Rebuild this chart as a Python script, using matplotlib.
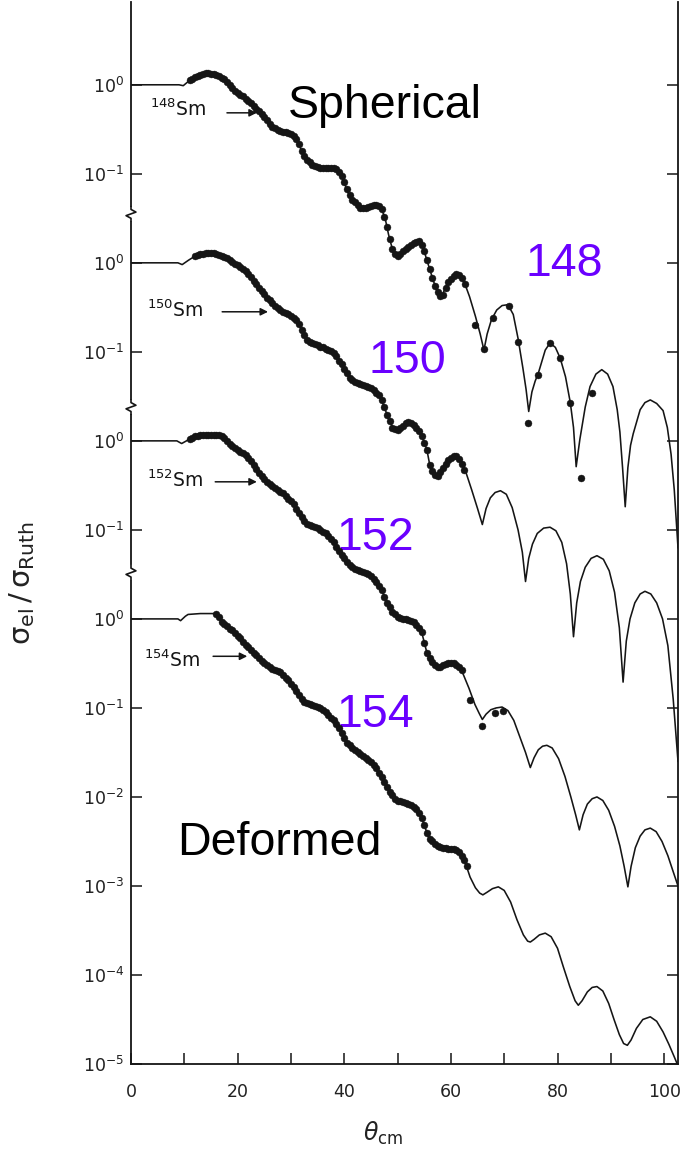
import numpy as np
import matplotlib
matplotlib.use("Agg")
import matplotlib.pyplot as plt
from matplotlib.ticker import FixedLocator, NullLocator

plt.rcParams['mathtext.default'] = 'regular'
plt.rcParams['font.family'] = ['DejaVu Sans']

# ---------------------------------------------------------------------------
# Elastic scattering on Sm isotopes: sigma_el / sigma_Ruth vs theta_cm (deg).
# Each entry is (theta_cm, log10(sigma_el / sigma_Ruth)), before stacking.
# ---------------------------------------------------------------------------

# --- 148Sm : optical-model curve ---
theory_148 = [
    (0, 0), (9.0, 0), (9.8, -0.01), (10.6, 0.03), (11.8, 0.08), (13.0, 0.11),
    (14.3, 0.13), (15.6, 0.12), (17.0, 0.08), (18.2, 0.02), (19.1, -0.05),
    (20.5, -0.11), (21.8, -0.17), (23.6, -0.28), (25.5, -0.39), (27.4, -0.50),
    (28.6, -0.53), (29.8, -0.54), (31.1, -0.62), (32.3, -0.78), (33.6, -0.88),
    (34.9, -0.92), (36.5, -0.93), (38.0, -0.93), (39.0, -0.98), (39.8, -1.06),
    (40.6, -1.20), (41.7, -1.30), (43.0, -1.38), (44.3, -1.38), (45.4, -1.35),
    (46.7, -1.37), (47.6, -1.48), (48.3, -1.68), (49.0, -1.84), (49.9, -1.92),
    (51.2, -1.86), (52.5, -1.80), (54.2, -1.76), (54.9, -1.85), (55.5, -1.97),
    (56.7, -2.20), (57.5, -2.33), (58.3, -2.38), (59.0, -2.27), (59.8, -2.19),
    (60.5, -2.15), (61.2, -2.13), (62.4, -2.20), (63.5, -2.38), (64.6, -2.60),
    (65.5, -2.80), (66.2, -2.98), (66.8, -2.80), (67.6, -2.64), (68.6, -2.53),
    (69.6, -2.48), (70.7, -2.47), (71.7, -2.58), (72.6, -2.85), (73.5, -3.18),
    (74.1, -3.42), (74.6, -3.67), (75.2, -3.45), (75.8, -3.33), (76.4, -3.24),
    (77.7, -2.98), (78.6, -2.90), (79.6, -2.95), (80.5, -3.07), (81.5, -3.28),
    (82.4, -3.57), (83.0, -3.85), (83.5, -4.29), (84.2, -3.98), (85.2, -3.62),
    (86.1, -3.39), (87.2, -3.25), (88.3, -3.20), (89.4, -3.25), (90.4, -3.39),
    (91.2, -3.65), (91.7, -3.90), (92.2, -4.30), (92.7, -4.74), (93.2, -4.30),
    (93.7, -4.05), (94.2, -3.92), (95.5, -3.65), (96.4, -3.57), (97.4, -3.54),
    (98.6, -3.58), (99.8, -3.66), (100.6, -3.85), (101.3, -4.15), (101.9, -4.55),
    (102.6, -5.20),
]

# --- 148Sm : measured points ---
measured_148 = [
    (11, 0.05), (11.5, 0.07), (12, 0.09), (12.5, 0.10), (13, 0.11), (13.5, 0.12),
    (14, 0.13), (14.5, 0.13), (15, 0.12), (15.5, 0.12), (16, 0.11), (16.5, 0.10),
    (17, 0.08), (17.5, 0.06), (18, 0.03), (18.5, 0.00), (19, -0.04), (19.5, -0.07),
    (20, -0.09), (20.5, -0.11), (21, -0.13), (21.5, -0.16), (22, -0.18), (22.5, -0.21),
    (23, -0.24), (23.5, -0.27), (24, -0.30), (24.5, -0.33), (25, -0.36), (25.5, -0.40),
    (26, -0.44), (26.5, -0.47), (27, -0.49), (27.5, -0.51), (28, -0.52), (28.5, -0.53),
    (29, -0.53), (29.5, -0.54), (30, -0.55), (30.5, -0.57), (31, -0.61), (31.5, -0.67),
    (32, -0.74), (32.5, -0.80), (33, -0.84), (33.5, -0.87), (34, -0.90), (34.5, -0.91),
    (35, -0.92), (35.5, -0.93), (36, -0.93), (36.5, -0.93), (37, -0.93), (37.5, -0.93),
    (38, -0.93), (38.5, -0.95), (39, -0.98), (39.5, -1.03), (40, -1.09), (40.5, -1.17),
    (41, -1.24), (41.5, -1.29), (42, -1.32), (42.5, -1.35), (43, -1.38), (43.5, -1.38),
    (44, -1.38), (44.5, -1.37), (45, -1.36), (45.5, -1.35), (46, -1.35), (46.5, -1.36),
    (47, -1.40), (47.5, -1.48), (48, -1.60), (48.5, -1.73), (49, -1.84), (49.5, -1.90),
    (50, -1.92), (50.5, -1.90), (51, -1.87), (51.5, -1.84), (52, -1.82), (52.5, -1.80),
    (53, -1.78), (53.5, -1.77), (54, -1.76), (54.5, -1.80), (55, -1.87), (55.5, -1.97),
    (56, -2.07), (56.5, -2.17), (57, -2.26), (57.5, -2.33), (58, -2.37), (58.5, -2.36),
    (59, -2.28), (59.5, -2.22), (60, -2.18), (60.5, -2.15), (61, -2.13), (61.5, -2.14),
    (62, -2.17), (62.6, -2.24), (64.5, -2.70), (66.2, -2.97), (67.9, -2.62),
    (70.9, -2.48), (72.6, -2.89), (74.5, -3.80), (76.4, -3.26), (78.6, -2.90),
    (80.5, -3.07), (82.4, -3.57), (84.4, -4.42), (86.5, -3.46),
]

# --- 150Sm ---
theory_150 = [
    (0, 0), (8.8, 0), (9.6, -0.02), (10.8, 0.03), (12.4, 0.09), (14.8, 0.11),
    (17.0, 0.08), (19.1, 0.01), (20.5, -0.05), (21.8, -0.11), (23.3, -0.22),
    (24.8, -0.34), (26.4, -0.45), (28.0, -0.53), (29.6, -0.58), (31.1, -0.64),
    (32.1, -0.76), (33.0, -0.87), (34.9, -0.92), (36.4, -0.96), (37.9, -1.00),
    (39.0, -1.10), (39.8, -1.17), (40.8, -1.27), (41.7, -1.33), (43.0, -1.36),
    (44.3, -1.39), (45.5, -1.43), (46.7, -1.50), (47.5, -1.62), (48.3, -1.75),
    (49.2, -1.86), (49.9, -1.88), (50.8, -1.84), (51.8, -1.79), (53.0, -1.82),
    (54.2, -1.90), (54.9, -2.00), (55.5, -2.10), (56.1, -2.29), (57.4, -2.40),
    (58.4, -2.30), (59.5, -2.21), (60.8, -2.17), (61.8, -2.21), (62.8, -2.35),
    (63.9, -2.55), (65.0, -2.76), (65.9, -2.94), (66.6, -2.76), (67.4, -2.64),
    (68.3, -2.58), (69.3, -2.56), (70.4, -2.60), (71.5, -2.75), (72.6, -3.00),
    (73.4, -3.25), (74.0, -3.58), (74.6, -3.32), (75.3, -3.16), (76.2, -3.04),
    (77.4, -2.98), (78.6, -2.97), (79.7, -3.01), (80.8, -3.14), (81.7, -3.38),
    (82.4, -3.72), (83.0, -4.20), (83.6, -3.82), (84.3, -3.58), (85.2, -3.42),
    (86.3, -3.32), (87.4, -3.29), (88.6, -3.33), (89.7, -3.46), (90.7, -3.70),
    (91.6, -4.10), (92.3, -4.71), (92.9, -4.25), (93.6, -4.00), (94.5, -3.82),
    (95.5, -3.72), (96.4, -3.69), (97.5, -3.72), (98.6, -3.82), (99.7, -4.00),
    (100.7, -4.30), (101.7, -4.90), (102.6, -5.60),
]

measured_150 = [
    (12, 0.08), (12.5, 0.09), (13, 0.10), (13.5, 0.10), (14, 0.11), (14.5, 0.11),
    (15, 0.11), (15.5, 0.11), (16, 0.10), (16.5, 0.09), (17, 0.08), (17.5, 0.07),
    (18, 0.05), (18.5, 0.03), (19, 0.01), (19.5, -0.01), (20, -0.03), (20.5, -0.05),
    (21, -0.07), (21.5, -0.09), (22, -0.12), (22.5, -0.16), (23, -0.20), (23.5, -0.24),
    (24, -0.28), (24.5, -0.32), (25, -0.35), (25.5, -0.39), (26, -0.42), (26.5, -0.45),
    (27, -0.48), (27.5, -0.51), (28, -0.53), (28.5, -0.55), (29, -0.56), (29.5, -0.58),
    (30, -0.60), (30.5, -0.62), (31, -0.64), (31.5, -0.69), (32, -0.75), (32.5, -0.81),
    (33, -0.87), (33.5, -0.89), (34, -0.90), (34.5, -0.91), (35, -0.92), (35.5, -0.94),
    (36, -0.95), (36.5, -0.97), (37, -0.98), (37.5, -0.99), (38, -1.01), (38.5, -1.05),
    (39, -1.10), (39.5, -1.14), (40, -1.19), (40.5, -1.24), (41, -1.29), (41.5, -1.32),
    (42, -1.34), (42.5, -1.35), (43, -1.36), (43.5, -1.37), (44, -1.38), (44.5, -1.39),
    (45, -1.41), (45.5, -1.43), (46, -1.46), (46.5, -1.49), (47, -1.54), (47.5, -1.62),
    (48, -1.71), (48.5, -1.78), (49, -1.85), (49.5, -1.87), (50, -1.88), (50.5, -1.86),
    (51, -1.83), (51.5, -1.80), (52, -1.79), (52.5, -1.80), (53, -1.82), (53.5, -1.85),
    (54, -1.89), (54.5, -1.95), (55, -2.02), (55.5, -2.10), (56, -2.27), (56.5, -2.34),
    (57, -2.38), (57.5, -2.40), (58, -2.35), (58.5, -2.30), (59, -2.26), (59.5, -2.22),
    (60, -2.19), (60.5, -2.17), (61, -2.17), (61.5, -2.20), (62, -2.26), (62.5, -2.33),
]

# --- 152Sm ---
theory_152 = [
    (0, 0), (8.6, 0), (9.5, -0.03), (10.7, 0.01), (12.0, 0.05), (13.5, 0.07),
    (15.5, 0.07), (17.0, 0.06), (18.6, -0.04), (20.2, -0.11), (21.8, -0.18),
    (23.3, -0.30), (24.8, -0.42), (26.4, -0.51), (28.0, -0.57), (29.2, -0.63),
    (30.4, -0.70), (31.3, -0.79), (32.3, -0.89), (33.6, -0.95), (34.9, -0.98),
    (36.1, -1.03), (37.3, -1.08), (38.3, -1.16), (39.2, -1.26), (40.5, -1.36),
    (41.7, -1.43), (43.0, -1.46), (44.3, -1.48), (45.5, -1.55), (46.7, -1.64),
    (47.4, -1.73), (48.0, -1.82), (49.0, -1.92), (49.9, -1.98), (51.1, -2.00),
    (52.3, -2.01), (53.4, -2.06), (54.4, -2.12), (55.5, -2.38), (56.5, -2.48),
    (57.6, -2.55), (58.8, -2.51), (60.2, -2.49), (61.2, -2.52), (62.3, -2.62),
    (63.4, -2.78), (64.5, -2.96), (65.3, -3.06), (65.9, -3.13), (66.6, -3.07),
    (67.5, -3.02), (68.5, -3.00), (69.6, -2.99), (70.7, -3.03), (71.8, -3.14),
    (72.9, -3.32), (74.0, -3.50), (74.9, -3.67), (75.6, -3.56), (76.4, -3.47),
    (77.2, -3.43), (78.0, -3.42), (79.0, -3.45), (80.2, -3.57), (81.4, -3.77),
    (82.5, -4.00), (83.4, -4.20), (84.1, -4.37), (84.8, -4.20), (85.6, -4.08),
    (86.5, -4.02), (87.4, -4.00), (88.5, -4.04), (89.6, -4.15), (90.7, -4.33),
    (91.7, -4.55), (92.5, -4.78), (93.2, -5.01), (93.8, -4.78), (94.6, -4.57),
    (95.5, -4.44), (96.4, -4.37), (97.4, -4.35), (98.5, -4.39), (99.6, -4.50),
    (100.7, -4.66), (101.7, -4.84), (102.6, -5.00),
]

measured_152 = [
    (11, 0.02), (11.5, 0.03), (12, 0.05), (12.5, 0.06), (13, 0.07), (13.5, 0.07),
    (14, 0.07), (14.5, 0.07), (15, 0.07), (15.5, 0.07), (16, 0.07), (16.5, 0.07),
    (17, 0.06), (17.5, 0.03), (18, 0.00), (18.5, -0.03), (19, -0.06), (19.5, -0.08),
    (20, -0.10), (20.5, -0.12), (21, -0.14), (21.5, -0.16), (22, -0.19), (22.5, -0.23),
    (23, -0.27), (23.5, -0.32), (24, -0.36), (24.5, -0.40), (25, -0.43), (25.5, -0.46),
    (26, -0.49), (26.5, -0.51), (27, -0.53), (27.5, -0.55), (28, -0.57), (28.5, -0.59),
    (29, -0.62), (29.5, -0.65), (30, -0.68), (30.5, -0.71), (31, -0.76), (31.5, -0.81),
    (32, -0.86), (32.5, -0.90), (33, -0.93), (33.5, -0.95), (34, -0.96), (34.5, -0.97),
    (35, -0.98), (35.5, -1.00), (36, -1.02), (36.5, -1.04), (37, -1.07), (37.5, -1.10),
    (38, -1.14), (38.5, -1.19), (39, -1.24), (39.5, -1.28), (40, -1.32), (40.5, -1.36),
    (41, -1.40), (41.5, -1.42), (42, -1.44), (42.5, -1.45), (43, -1.46), (43.5, -1.47),
    (44, -1.48), (44.5, -1.50), (45, -1.52), (45.5, -1.55), (46, -1.59), (46.5, -1.63),
    (47, -1.68), (47.5, -1.75), (48, -1.82), (48.5, -1.87), (49, -1.92), (49.5, -1.95),
    (50, -1.98), (50.5, -1.99), (51, -2.00), (51.5, -2.00), (52, -2.01), (52.5, -2.02),
    (53, -2.04), (53.5, -2.07), (54, -2.10), (54.5, -2.15), (55, -2.27), (55.5, -2.38),
    (56, -2.44), (56.5, -2.48), (57, -2.52), (57.5, -2.54), (58, -2.54), (58.5, -2.52),
    (59, -2.51), (59.5, -2.50), (60, -2.49), (60.5, -2.50), (61, -2.52), (61.5, -2.54),
    (62, -2.57), (63.6, -2.91), (65.9, -3.20), (68.3, -3.06), (69.8, -3.04),
]

# --- 154Sm ---
theory_154 = [
    (0, 0), (8.8, 0), (9.3, -0.02), (10.2, 0.03), (10.7, 0.05), (13.0, 0.06),
    (15.8, 0.06), (17.3, -0.05), (18.6, -0.11), (19.9, -0.18), (21.8, -0.31),
    (23.3, -0.40), (24.8, -0.49), (26.4, -0.55), (28.0, -0.60), (29.2, -0.67),
    (30.4, -0.76), (31.3, -0.84), (32.3, -0.93), (33.9, -0.97), (35.5, -1.00),
    (36.7, -1.06), (37.9, -1.13), (39.2, -1.25), (40.5, -1.39), (42.0, -1.47),
    (43.6, -1.55), (44.9, -1.60), (46.2, -1.70), (47.2, -1.80), (48.3, -1.92),
    (49.5, -2.02), (50.8, -2.05), (52.3, -2.09), (53.7, -2.14), (54.6, -2.25),
    (55.5, -2.40), (56.1, -2.48), (57.2, -2.54), (58.5, -2.57), (59.8, -2.58),
    (61.2, -2.60), (62.0, -2.66), (62.7, -2.74), (63.6, -2.90), (64.6, -3.02),
    (65.4, -3.08), (66.0, -3.10), (66.8, -3.07), (67.8, -3.03), (68.9, -3.01),
    (70.0, -3.05), (71.2, -3.18), (72.4, -3.38), (73.6, -3.55), (74.4, -3.62),
    (74.9, -3.63), (75.6, -3.60), (76.6, -3.55), (77.7, -3.53), (78.8, -3.57),
    (80.0, -3.70), (81.1, -3.91), (82.3, -4.13), (83.3, -4.29), (83.9, -4.34),
    (84.6, -4.29), (85.6, -4.19), (86.5, -4.14), (87.4, -4.13), (88.5, -4.18),
    (89.6, -4.32), (90.6, -4.50), (91.6, -4.67), (92.4, -4.77), (93.1, -4.79),
    (93.8, -4.73), (94.8, -4.60), (96.0, -4.50), (97.4, -4.47), (98.6, -4.52),
    (99.8, -4.64), (100.9, -4.78), (101.9, -4.92), (102.6, -5.02),
]

measured_154 = [
    (16, 0.06), (16.5, 0.02), (17, -0.03), (17.5, -0.06), (18, -0.08), (18.5, -0.11),
    (19, -0.13), (19.5, -0.16), (20, -0.19), (20.5, -0.22), (21, -0.26), (21.5, -0.29),
    (22, -0.32), (22.5, -0.35), (23, -0.38), (23.5, -0.41), (24, -0.44), (24.5, -0.47),
    (25, -0.50), (25.5, -0.52), (26, -0.54), (26.5, -0.56), (27, -0.57), (27.5, -0.58),
    (28, -0.60), (28.5, -0.63), (29, -0.66), (29.5, -0.69), (30, -0.73), (30.5, -0.77),
    (31, -0.81), (31.5, -0.86), (32, -0.90), (32.5, -0.93), (33, -0.95), (33.5, -0.96),
    (34, -0.97), (34.5, -0.98), (35, -0.99), (35.5, -1.00), (36, -1.02), (36.5, -1.05),
    (37, -1.08), (37.5, -1.11), (38, -1.14), (38.5, -1.18), (39, -1.23), (39.5, -1.28),
    (40, -1.34), (40.5, -1.39), (41, -1.42), (41.5, -1.45), (42, -1.47), (42.5, -1.50),
    (43, -1.52), (43.5, -1.54), (44, -1.56), (44.5, -1.58), (45, -1.61), (45.5, -1.64),
    (46, -1.68), (46.5, -1.73), (47, -1.78), (47.5, -1.83), (48, -1.89), (48.5, -1.94),
    (49, -1.98), (49.5, -2.02), (50, -2.04), (50.5, -2.05), (51, -2.06), (51.5, -2.07),
    (52, -2.08), (52.5, -2.09), (53, -2.11), (53.5, -2.13), (54, -2.18), (54.5, -2.24),
    (55, -2.32), (55.5, -2.40), (56, -2.47), (56.5, -2.50), (57, -2.53), (57.5, -2.55),
    (58, -2.56), (58.5, -2.57), (59, -2.57), (59.5, -2.58), (60, -2.59), (60.5, -2.59),
    (61, -2.60), (61.5, -2.62), (62, -2.66), (62.5, -2.71), (63, -2.78),
]

# Each isotope is displaced upward by a whole number of decades
isotopes = ['148', '150', '152', '154']
decade_shift = [6, 4, 2, 0]

# y tick labels (exponent on the local scale), from the top tick down
ytick_decades = [6, 5, 4, 3, 2, 1, 0, -1, -2, -3, -4, -5]
ytick_exponents = [0, -1, 0, -1, 0, -1, 0, -1, -2, -3, -4, -5]

xtick_values = [0, 10, 20, 30, 40, 50, 60, 70, 80, 90, 100]
xtick_labels = ['0', '', '20', '', '40', '', '60', '', '80', '', '100']

curves = {
    '148': (theory_148, measured_148),
    '150': (theory_150, measured_150),
    '152': (theory_152, measured_152),
    '154': (theory_154, measured_154),
}

INK = '#151515'

fig = plt.figure(figsize=(6.9, 11.59), dpi=100)
W, H = 690.0, 1159.0
ax = fig.add_axes([131 / W, 1 - 1064 / H, 547 / W, 1062 / H])
ax.set_yscale('log')
ax.set_xlim(0, 102.6)
ax.set_ylim(1e-5, 10 ** 6.93)

for iso, shift in zip(isotopes, decade_shift):
    theory, measured = curves[iso]
    factor = 10.0 ** shift
    th, ls = np.array(theory).T
    te, le = np.array(measured).T
    ax.plot(th, factor * 10.0 ** ls, color=INK, lw=1.15,
            solid_joinstyle='round', zorder=3)
    ax.plot(te, factor * 10.0 ** le, 'o', color=INK, ms=5.0,
            mec=INK, mew=0.3, zorder=4)

# axes styling
for side in ('left', 'right', 'bottom'):
    ax.spines[side].set_linewidth(1.3)
    ax.spines[side].set_color(INK)
ax.spines['top'].set_visible(False)

ax.xaxis.set_major_locator(FixedLocator(xtick_values))
ax.set_xticklabels(xtick_labels)
ax.yaxis.set_major_locator(FixedLocator([10.0 ** d for d in ytick_decades]))
ax.yaxis.set_minor_locator(NullLocator())
ax.set_yticklabels([r'$10^{%d}$' % e for e in ytick_exponents])
ax.tick_params(axis='both', which='major', direction='in', length=8,
               width=1.1, color=INK, labelcolor='#222222')
ax.tick_params(axis='x', labelsize=12.5, pad=14)
ax.tick_params(axis='y', labelsize=12.5, pad=5, right=True)

# axis breaks on the left spine between the stacked panels
ytr = ax.get_yaxis_transform()
for yb in (4.55, 2.38, 0.52):
    ax.plot([0, 0], [10 ** (yb - 0.06), 10 ** (yb + 0.06)], color='white',
            lw=3, transform=ytr, clip_on=False, zorder=6)
    ax.plot([0, 0, 0.009, -0.009, 0, 0],
            [10 ** (yb + 0.08), 10 ** (yb + 0.05), 10 ** (yb + 0.02),
             10 ** (yb - 0.02), 10 ** (yb - 0.05), 10 ** (yb - 0.08)],
            color=INK, lw=1.2, transform=ytr, clip_on=False, zorder=7)

# isotope labels with arrows
iso_label_pos = {'148': (3.6, 5.72), '150': (3.0, 3.47), '152': (3.0, 1.56), '154': (2.4, -0.46)}
iso_arrows = {'148': (18.0, 23.6, 5.685), '150': (17.1, 25.7, 3.45),
              '152': (15.8, 23.6, 1.54), '154': (15.4, 21.8, -0.42)}
for iso in isotopes:
    tx, ty = iso_label_pos[iso]
    ax.text(tx, 10 ** ty, r'$^{%s}$Sm' % iso, fontsize=13.5, color=INK,
            ha='left', va='center')
    a0, a1, ay = iso_arrows[iso]
    ax.annotate('', xy=(a1, 10 ** ay), xytext=(a0, 10 ** ay),
                arrowprops=dict(arrowstyle='-|>', color=INK, lw=1.1,
                                mutation_scale=11, shrinkA=0, shrinkB=0))

# annotations
big = dict(family=['Liberation Sans', 'DejaVu Sans'], fontsize=33.5)
ax.text(29.5, 10 ** 5.63, 'Spherical', color='black', ha='left', va='baseline', **big)
ax.text(8.6, 10 ** -2.65, 'Deformed', color='black', ha='left', va='baseline', **big)
purple = '#6a00ff'
mass_text_pos = {'148': (81.2, 3.85), '150': (51.8, 2.76), '152': (45.8, 0.775), '154': (45.8, -1.21)}
for iso in isotopes:
    px, py = mass_text_pos[iso]
    ax.text(px, 10 ** py, iso, color=purple, ha='center', va='baseline', **big)

fig.text(22 / W, 1 - 583 / H, r'$\sigma_{el}\,/\,\sigma_{Ruth}$', rotation=90,
         fontsize=21, ha='center', va='center', color='#222222')
fig.text(383 / W, 1 - 1133 / H, r'$\mathit{\theta}_{cm}$', fontsize=17,
         ha='center', va='center', color='#222222')

fig.savefig('out.png', dpi=100, facecolor='white')
